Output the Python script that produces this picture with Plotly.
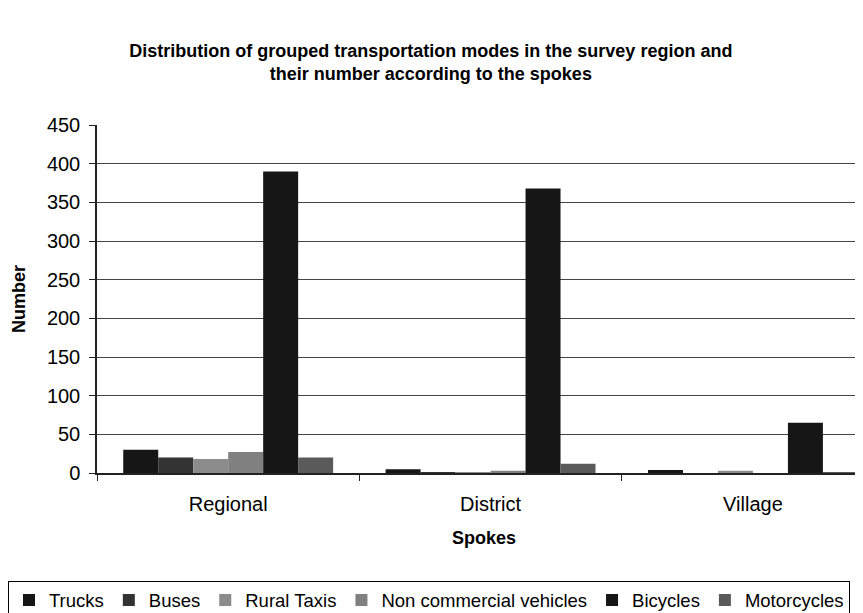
import plotly.graph_objects as go

categories = ["Regional", "District", "Village"]
series_names = ["Trucks", "Buses", "Rural Taxis", "Non commercial vehicles", "Bicycles", "Motorcycles"]
trucks = [30, 5, 4]
buses = [20, 1, 0]
rural_taxis = [18, 1, 3]
non_commercial = [27, 3, 0]
bicycles = [390, 368, 65]
motorcycles = [20, 12, 1]
y_ticks = [0, 50, 100, 150, 200, 250, 300, 350, 400, 450]

series_values = [trucks, buses, rural_taxis, non_commercial, bicycles, motorcycles]
colors = ["#161616", "#333333", "#8c8c8c", "#808080", "#161616", "#5a5a5a"]

font_family = "Liberation Sans, Arial, sans-serif"

L, T, B, W = 89, 117, 148, 863
plot_w = W - L

fig = go.Figure()
for name, vals, col in zip(series_names, series_values, colors):
    fig.add_trace(go.Bar(
        x=categories, y=vals, name=name,
        marker=dict(color=col, line=dict(width=0)),
    ))

fig.update_layout(
    width=W, height=613,
    margin=dict(l=L, r=0, t=T, b=B, autoexpand=False),
    paper_bgcolor="white", plot_bgcolor="white",
    barmode="group", bargap=0.2, bargroupgap=0,
    font=dict(family=font_family, size=18, color="black"),
    title=dict(
        text="<b>Distribution of grouped transportation modes in the survey region and<br>their number according to the spokes</b>",
        x=0.49, xref="container", xanchor="center", y=0.92, yanchor="middle",
        font=dict(size=18, family=font_family, color="black"),
    ),
    showlegend=True,
    legend=dict(
        orientation="h", x=(0 - L) / plot_w, xanchor="left", y=-0.309, yanchor="top",
        bordercolor="black", borderwidth=1, bgcolor="white",
        font=dict(size=18.5, family=font_family), itemwidth=30,
        traceorder="normal",
    ),
    xaxis=dict(
        range=[-0.5, 2.45], showline=True, linecolor="#222", linewidth=1.5,
        ticks="outside", tickson="boundaries", ticklen=6, tickcolor="#222",
        showgrid=False, automargin=False, ticklabelstandoff=12,
        tickfont=dict(size=20),
        title=dict(text="<b>Spokes</b>", font=dict(size=18), standoff=18),
    ),
    yaxis=dict(
        range=[0, 450], tickvals=y_ticks, showline=True, linecolor="#222", linewidth=1.5,
        ticks="outside", ticklen=6, tickcolor="#222", automargin=False,
        showgrid=True, gridcolor="#444", gridwidth=1, ticklabelstandoff=5,
        tickfont=dict(size=20),
        title=dict(text="<b>Number</b>", font=dict(size=18), standoff=17),
        zeroline=False,
    ),
)

fig.write_html("out.html")
